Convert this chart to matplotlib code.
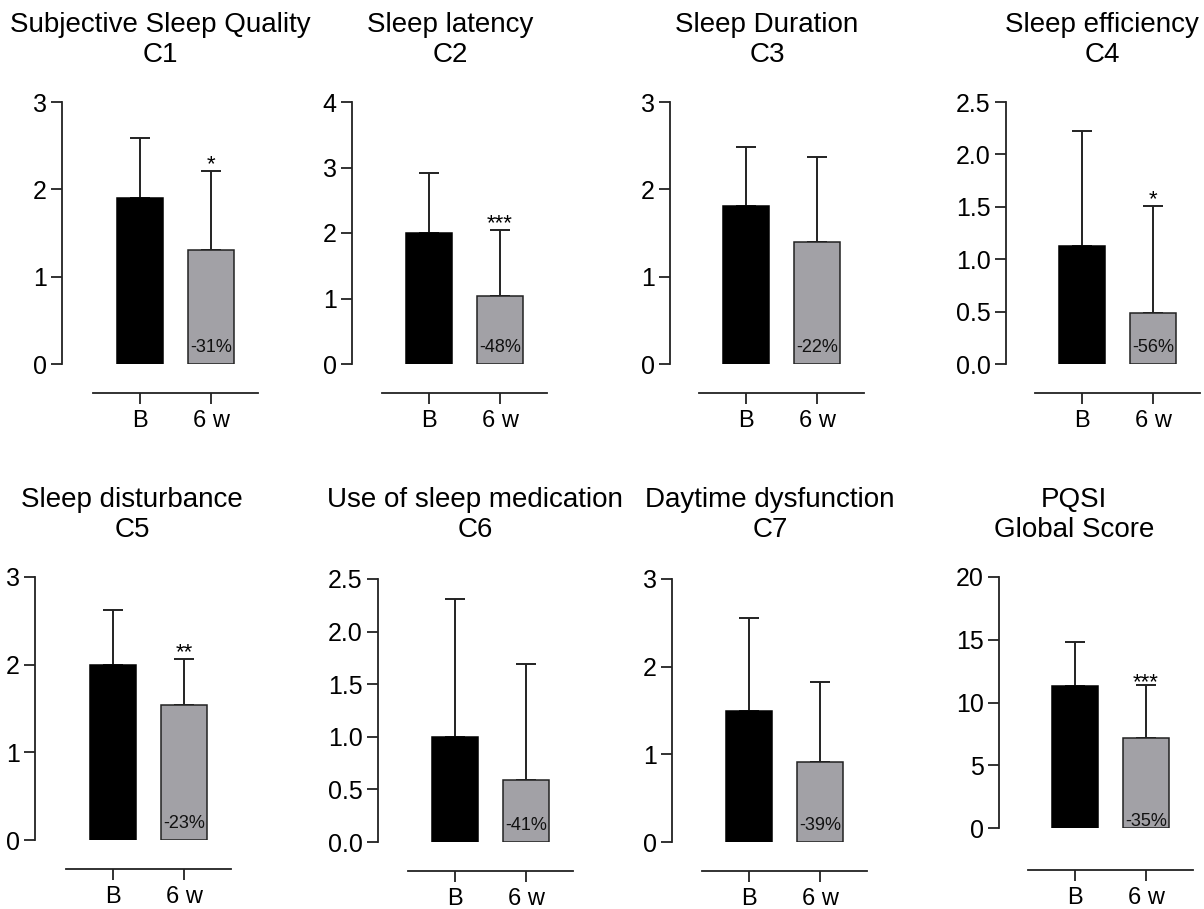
"""PSQI components: baseline vs 6 weeks"""
import matplotlib.pyplot as plt
import numpy as np

plt.rcParams["font.family"] = ["Liberation Sans", "DejaVu Sans"]

# データ
titles = [
    "Subjective Sleep Quality\nC1",
    "Sleep latency\nC2",
    "Sleep Duration\nC3",
    "Sleep efficiency\nC4",
    "Sleep disturbance\nC5",
    "Use of sleep medication\nC6",
    "Daytime dysfunction\nC7",
    "PQSI\nGlobal Score",
]
groups = ["B", "6 w"]
base_mean = [1.90, 2.00, 1.81, 1.13, 2.00, 1.00, 1.50, 11.3]
base_sd = [0.69, 0.92, 0.67, 1.09, 0.62, 1.31, 1.06, 3.55]
week6_mean = [1.31, 1.04, 1.40, 0.49, 1.54, 0.59, 0.91, 7.2]
week6_sd = [0.90, 1.00, 0.97, 1.02, 0.52, 1.10, 0.92, 4.2]
change = ["-31%", "-48%", "-22%", "-56%", "-23%", "-41%", "-39%", "-35%"]
stars = ["*", "***", "", "*", "**", "", "", "***"]
y_max = [3, 4, 3, 2.5, 3, 2.5, 3, 20]
y_step = [1, 1, 1, 0.5, 1, 0.5, 1, 5]

# レイアウト（ピクセル）: y軸x, 軸左端, 上端, ゼロ位置, x軸線位置, タイトル中心
layout = [
    (62, 93, 102, 364, 393, 160),
    (352, 382, 102, 364, 393, 450),
    (670, 699, 102, 364, 393, 767),
    (1006, 1035, 102, 364, 393, 1102),
    (35, 66, 577, 840, 869, 132),
    (378, 408, 579, 842, 871, 475),
    (672, 702, 579, 842, 871, 770),
    (999, 1028, 577, 828, 870, 1074),
]
pct_offset = [17, 17, 17, 17, 17, 17, 17, 6]
star_offset = [1, 1, 1, 1, 1, 1, 1, -3]

W, H = 1204, 909
fig = plt.figure(figsize=(W / 100, H / 100), dpi=100)
line_c = "#222222"
px = 0.72  # px -> pt

for i in range(len(titles)):
    yax, x0, top, zero, spine_y, tx = layout[i]
    ax = fig.add_axes([x0 / W, 1 - zero / H, 165 / W, (zero - top) / H])
    x = np.arange(2)
    means = [base_mean[i], week6_mean[i]]
    sds = [base_sd[i], week6_sd[i]]

    ax.errorbar(x, means, yerr=[[0, 0], sds], fmt="none", ecolor=line_c,
                elinewidth=1.4, capsize=7.5, capthick=1.4, zorder=2)
    ax.bar(x, means, width=0.65, color=["black", "#a2a1a6"],
           edgecolor=["black", line_c], linewidth=1.1, zorder=3)

    ax.set_xlim(-0.66, 1.66)
    ax.set_ylim(0, y_max[i])
    ax.set_yticks(np.arange(0, y_max[i] + 1e-9, y_step[i]))
    if y_step[i] < 1:
        ax.set_yticklabels([f"{v:.1f}" for v in ax.get_yticks()])
    else:
        ax.set_yticklabels([f"{v:.0f}" for v in ax.get_yticks()])
    ax.set_xticks(x)
    ax.set_xticklabels(groups)

    for s in ["top", "right"]:
        ax.spines[s].set_visible(False)
    ax.spines["left"].set_position(("outward", (x0 - yax) * px))
    ax.spines["bottom"].set_position(("outward", (spine_y - zero) * px))
    for s in ["left", "bottom"]:
        ax.spines[s].set_linewidth(1.3)
        ax.spines[s].set_color(line_c)
    ax.tick_params(axis="y", length=8, width=1.3, color=line_c, labelsize=18, pad=3)
    ax.tick_params(axis="x", length=8, width=1.3, color=line_c, labelsize=17, pad=4.5)
    ax.patch.set_visible(False)

    # 変化率と有意差
    ax.annotate(change[i], (1, 0), xytext=(0, pct_offset[i] * px),
                textcoords="offset points", ha="center", va="center",
                fontsize=13, color="#111111", zorder=5)
    if stars[i]:
        ax.annotate(stars[i], (1, means[1] + sds[1]), xytext=(0, star_offset[i] * px),
                    textcoords="offset points", ha="center", va="baseline",
                    fontsize=16, annotation_clip=False)

    row_base = 62 if i < 4 else 537
    fig.text(tx / W, 1 - row_base / H, titles[i], ha="center", va="baseline",
             fontsize=20)

fig.savefig("out.png", dpi=100)
